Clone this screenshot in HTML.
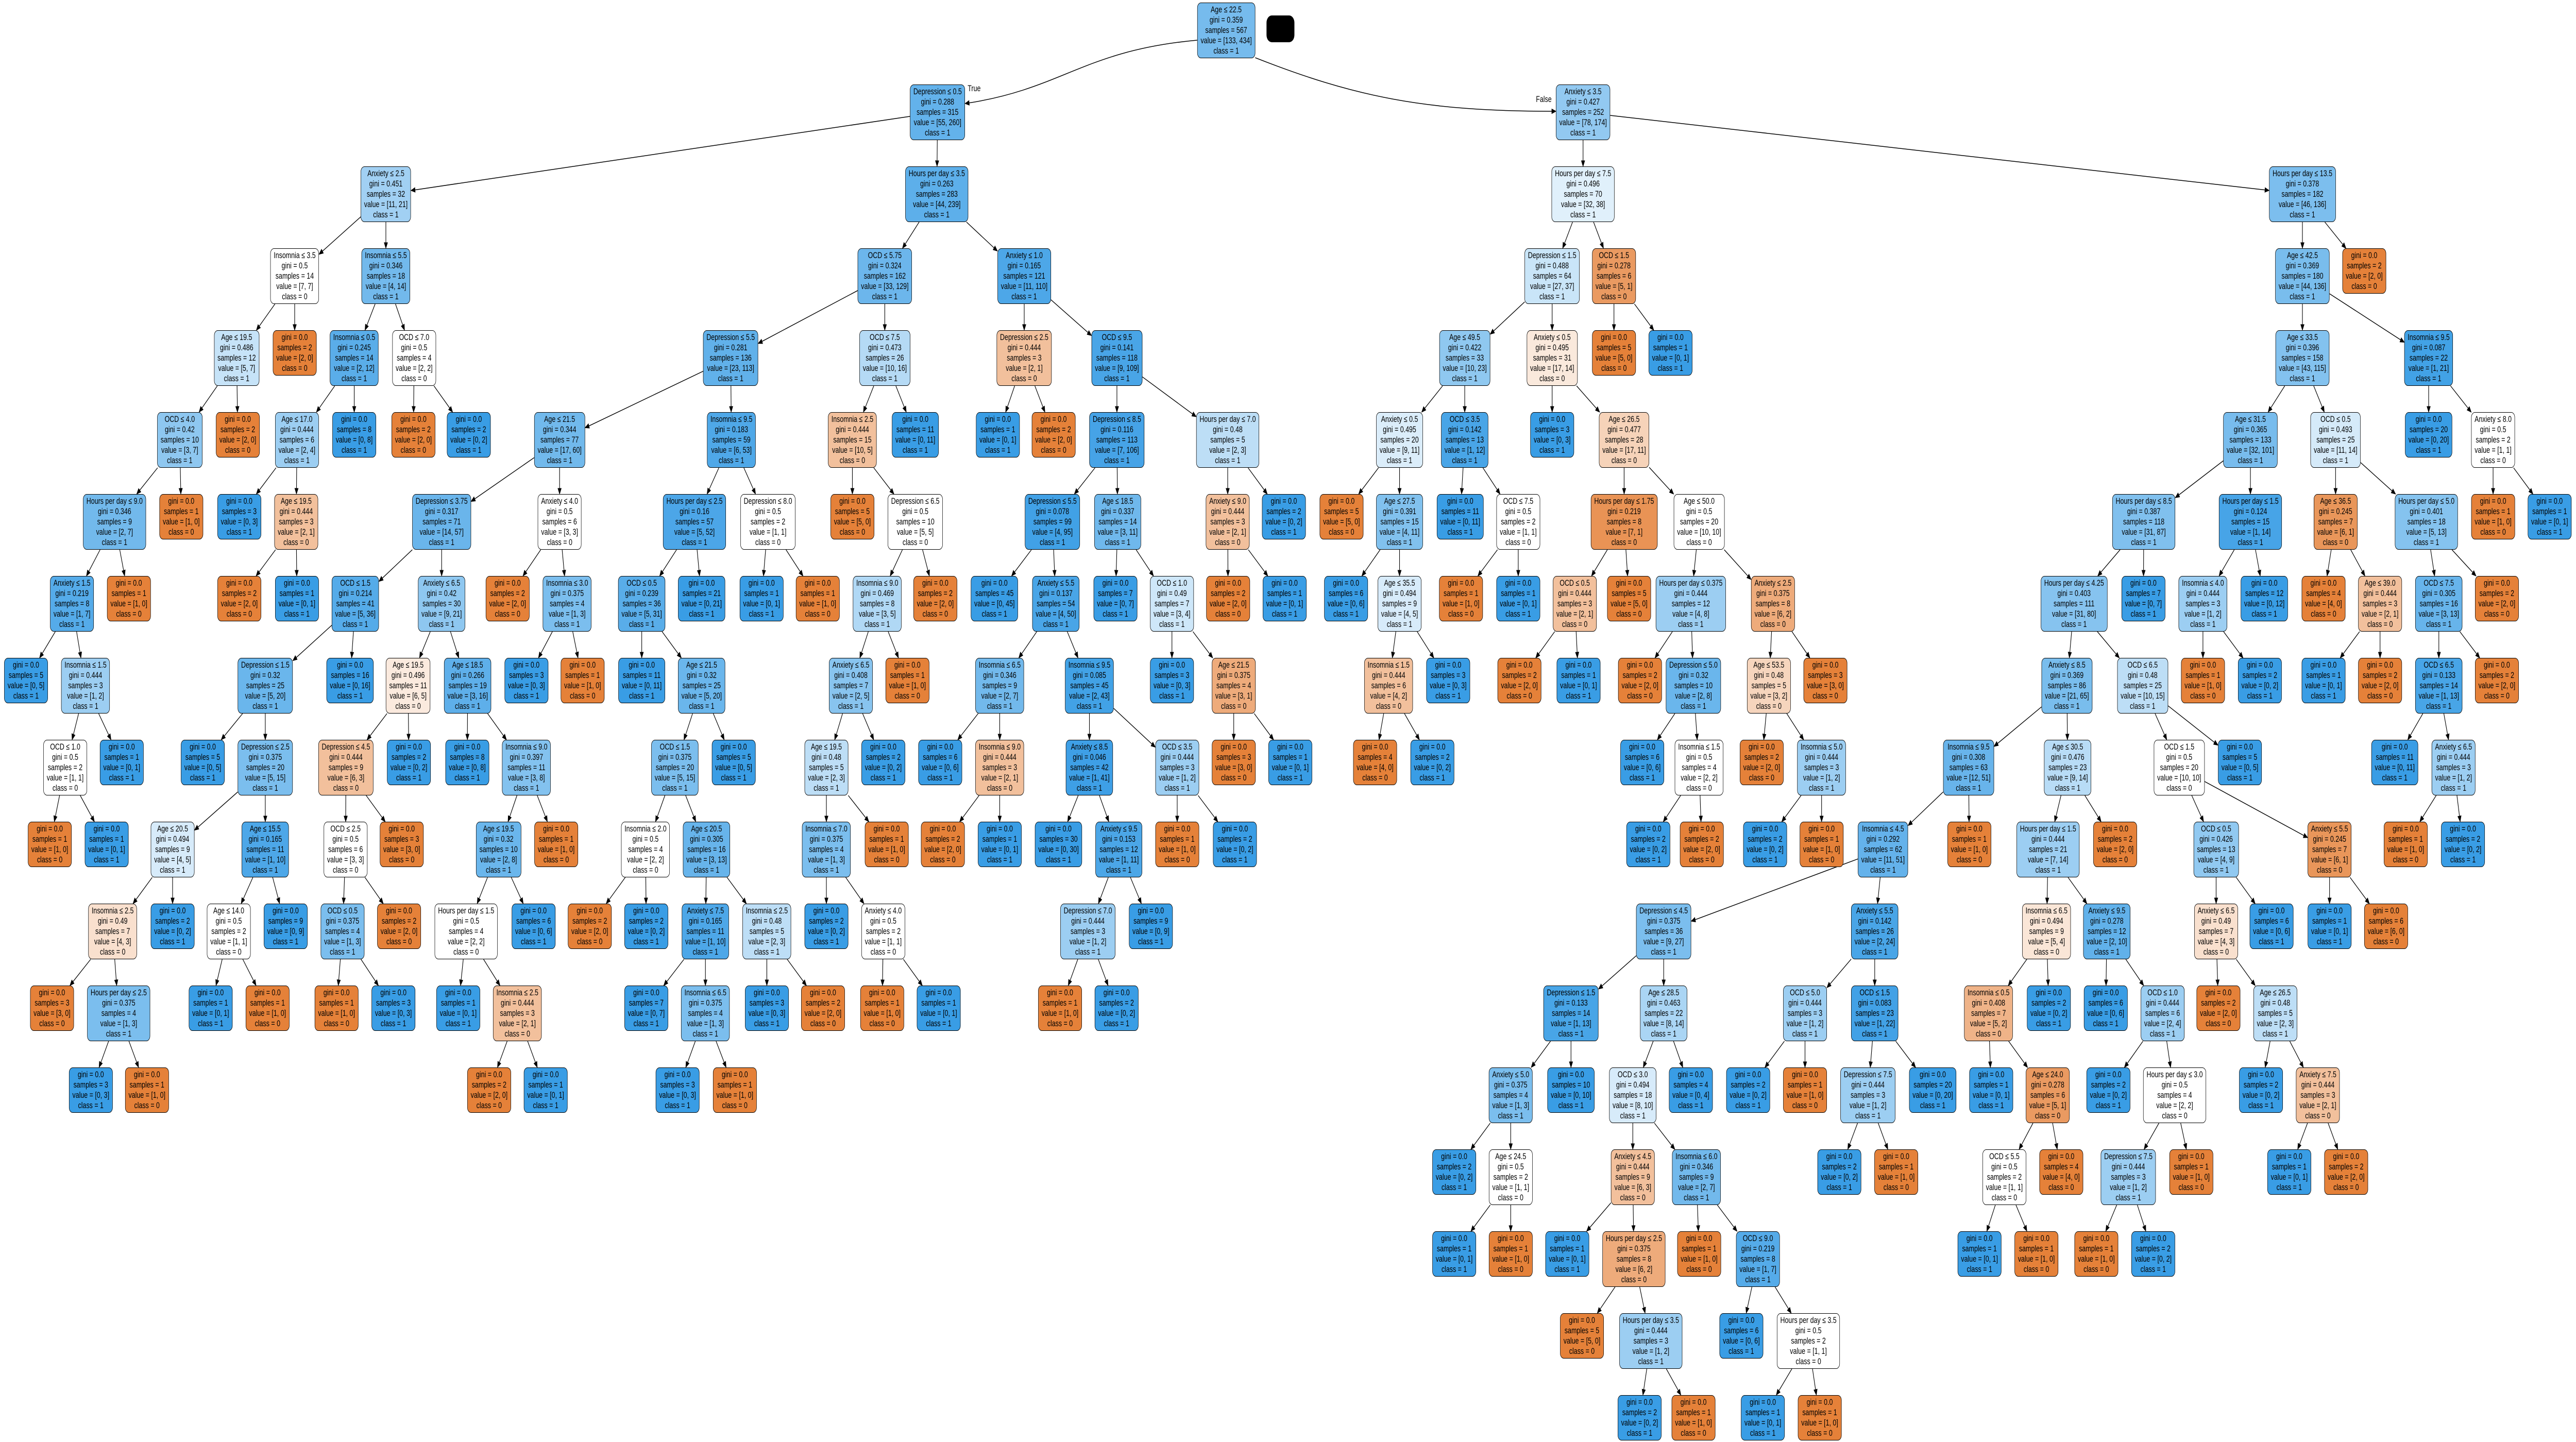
<!DOCTYPE html>
<html><head><meta charset="utf-8">
<style>
html,body{margin:0;padding:0;background:#fff;overflow:hidden}
#W{position:absolute;left:0;top:0;width:6836px;height:2799px;transform-origin:0 0;background:#fff}
svg{position:absolute;left:0;top:0}
.n{position:absolute;transform:translateX(-50%);border:1.5px solid #000;border-radius:10px;font:17px/20px "Liberation Sans",Arial,sans-serif;text-align:center;padding:3px 8px;white-space:nowrap;color:#000;background:#fff;z-index:2}
.lbl{position:absolute;font:17px/20px "Liberation Sans",Arial,sans-serif;z-index:2}
#blk{position:absolute;left:3361px;top:30px;width:74px;height:52px;background:#000;border-radius:14px}
</style></head><body>
<div id="W">
<svg id="E" width="6836" height="2799" xmlns="http://www.w3.org/2000/svg"></svg>
<div id="blk"></div>
<div class="lbl" style="left:2568px;top:162px">True</div>
<div class="lbl" style="left:4076px;top:183px">False</div>

<div id="n0" class="n" style="left:3254px">Age ≤ 22.5<br>gini = 0.359<br>samples = 567<br>value = [133, 434]<br>class = 1</div>
<div id="n1" class="n p0" style="left:2488px">Depression ≤ 0.5<br>gini = 0.288<br>samples = 315<br>value = [55, 260]<br>class = 1</div>
<div id="n2" class="n p1" style="left:1024px">Anxiety ≤ 2.5<br>gini = 0.451<br>samples = 32<br>value = [11, 21]<br>class = 1</div>
<div id="n3" class="n p2" style="left:782px">Insomnia ≤ 3.5<br>gini = 0.5<br>samples = 14<br>value = [7, 7]<br>class = 0</div>
<div id="n4" class="n p3" style="left:628px">Age ≤ 19.5<br>gini = 0.486<br>samples = 12<br>value = [5, 7]<br>class = 1</div>
<div id="n5" class="n p4" style="left:477px">OCD ≤ 4.0<br>gini = 0.42<br>samples = 10<br>value = [3, 7]<br>class = 1</div>
<div id="n6" class="n p5" style="left:304px">Hours per day ≤ 9.0<br>gini = 0.346<br>samples = 9<br>value = [2, 7]<br>class = 1</div>
<div id="n7" class="n p6" style="left:191px">Anxiety ≤ 1.5<br>gini = 0.219<br>samples = 8<br>value = [1, 7]<br>class = 1</div>
<div id="n8" class="n p7" style="left:69px">gini = 0.0<br>samples = 5<br>value = [0, 5]<br>class = 1</div>
<div id="n9" class="n p7" style="left:227px">Insomnia ≤ 1.5<br>gini = 0.444<br>samples = 3<br>value = [1, 2]<br>class = 1</div>
<div id="n10" class="n p9" style="left:173px">OCD ≤ 1.0<br>gini = 0.5<br>samples = 2<br>value = [1, 1]<br>class = 0</div>
<div id="n11" class="n p10" style="left:132px">gini = 0.0<br>samples = 1<br>value = [1, 0]<br>class = 0</div>
<div id="n12" class="n p10" style="left:283px">gini = 0.0<br>samples = 1<br>value = [0, 1]<br>class = 1</div>
<div id="n13" class="n p9" style="left:323px">gini = 0.0<br>samples = 1<br>value = [0, 1]<br>class = 1</div>
<div id="n14" class="n p6" style="left:342px">gini = 0.0<br>samples = 1<br>value = [1, 0]<br>class = 0</div>
<div id="n15" class="n p5" style="left:481px">gini = 0.0<br>samples = 1<br>value = [1, 0]<br>class = 0</div>
<div id="n16" class="n p4" style="left:631px">gini = 0.0<br>samples = 2<br>value = [2, 0]<br>class = 0</div>
<div id="n17" class="n p3" style="left:782px">gini = 0.0<br>samples = 2<br>value = [2, 0]<br>class = 0</div>
<div id="n18" class="n p2" style="left:1024px">Insomnia ≤ 5.5<br>gini = 0.346<br>samples = 18<br>value = [4, 14]<br>class = 1</div>
<div id="n19" class="n p18" style="left:940px">Insomnia ≤ 0.5<br>gini = 0.245<br>samples = 14<br>value = [2, 12]<br>class = 1</div>
<div id="n20" class="n p19" style="left:788px">Age ≤ 17.0<br>gini = 0.444<br>samples = 6<br>value = [2, 4]<br>class = 1</div>
<div id="n21" class="n p20" style="left:635px">gini = 0.0<br>samples = 3<br>value = [0, 3]<br>class = 1</div>
<div id="n22" class="n p20" style="left:786px">Age ≤ 19.5<br>gini = 0.444<br>samples = 3<br>value = [2, 1]<br>class = 0</div>
<div id="n23" class="n p22" style="left:635px">gini = 0.0<br>samples = 2<br>value = [2, 0]<br>class = 0</div>
<div id="n24" class="n p22" style="left:788px">gini = 0.0<br>samples = 1<br>value = [0, 1]<br>class = 1</div>
<div id="n25" class="n p19" style="left:940px">gini = 0.0<br>samples = 8<br>value = [0, 8]<br>class = 1</div>
<div id="n26" class="n p18" style="left:1099px">OCD ≤ 7.0<br>gini = 0.5<br>samples = 4<br>value = [2, 2]<br>class = 0</div>
<div id="n27" class="n p26" style="left:1097px">gini = 0.0<br>samples = 2<br>value = [2, 0]<br>class = 0</div>
<div id="n28" class="n p26" style="left:1244px">gini = 0.0<br>samples = 2<br>value = [0, 2]<br>class = 1</div>
<div id="n29" class="n p1" style="left:2486px">Hours per day ≤ 3.5<br>gini = 0.263<br>samples = 283<br>value = [44, 239]<br>class = 1</div>
<div id="n30" class="n p29" style="left:2348px">OCD ≤ 5.75<br>gini = 0.324<br>samples = 162<br>value = [33, 129]<br>class = 1</div>
<div id="n31" class="n p30" style="left:1939px">Depression ≤ 5.5<br>gini = 0.281<br>samples = 136<br>value = [23, 113]<br>class = 1</div>
<div id="n32" class="n p31" style="left:1485px">Age ≤ 21.5<br>gini = 0.344<br>samples = 77<br>value = [17, 60]<br>class = 1</div>
<div id="n33" class="n p32" style="left:1172px">Depression ≤ 3.75<br>gini = 0.317<br>samples = 71<br>value = [14, 57]<br>class = 1</div>
<div id="n34" class="n p33" style="left:943px">OCD ≤ 1.5<br>gini = 0.214<br>samples = 41<br>value = [5, 36]<br>class = 1</div>
<div id="n35" class="n p34" style="left:704px">Depression ≤ 1.5<br>gini = 0.32<br>samples = 25<br>value = [5, 20]<br>class = 1</div>
<div id="n36" class="n p35" style="left:538px">gini = 0.0<br>samples = 5<br>value = [0, 5]<br>class = 1</div>
<div id="n37" class="n p35" style="left:704px">Depression ≤ 2.5<br>gini = 0.375<br>samples = 20<br>value = [5, 15]<br>class = 1</div>
<div id="n38" class="n p37" style="left:458px">Age ≤ 20.5<br>gini = 0.494<br>samples = 9<br>value = [4, 5]<br>class = 1</div>
<div id="n39" class="n p38" style="left:299px">Insomnia ≤ 2.5<br>gini = 0.49<br>samples = 7<br>value = [4, 3]<br>class = 0</div>
<div id="n40" class="n p39" style="left:138px">gini = 0.0<br>samples = 3<br>value = [3, 0]<br>class = 0</div>
<div id="n41" class="n p39" style="left:315px">Hours per day ≤ 2.5<br>gini = 0.375<br>samples = 4<br>value = [1, 3]<br>class = 1</div>
<div id="n42" class="n p41" style="left:241px">gini = 0.0<br>samples = 3<br>value = [0, 3]<br>class = 1</div>
<div id="n43" class="n p41" style="left:390px">gini = 0.0<br>samples = 1<br>value = [1, 0]<br>class = 0</div>
<div id="n44" class="n p38" style="left:458px">gini = 0.0<br>samples = 2<br>value = [0, 2]<br>class = 1</div>
<div id="n45" class="n p37" style="left:704px">Age ≤ 15.5<br>gini = 0.165<br>samples = 11<br>value = [1, 10]<br>class = 1</div>
<div id="n46" class="n p45" style="left:607px">Age ≤ 14.0<br>gini = 0.5<br>samples = 2<br>value = [1, 1]<br>class = 0</div>
<div id="n47" class="n p46" style="left:559px">gini = 0.0<br>samples = 1<br>value = [0, 1]<br>class = 1</div>
<div id="n48" class="n p46" style="left:710px">gini = 0.0<br>samples = 1<br>value = [1, 0]<br>class = 0</div>
<div id="n49" class="n p45" style="left:758px">gini = 0.0<br>samples = 9<br>value = [0, 9]<br>class = 1</div>
<div id="n50" class="n p34" style="left:929px">gini = 0.0<br>samples = 16<br>value = [0, 16]<br>class = 1</div>
<div id="n51" class="n p33" style="left:1172px">Anxiety ≤ 6.5<br>gini = 0.42<br>samples = 30<br>value = [9, 21]<br>class = 1</div>
<div id="n52" class="n p51" style="left:1083px">Age ≤ 19.5<br>gini = 0.496<br>samples = 11<br>value = [6, 5]<br>class = 0</div>
<div id="n53" class="n p52" style="left:918px">Depression ≤ 4.5<br>gini = 0.444<br>samples = 9<br>value = [6, 3]<br>class = 0</div>
<div id="n54" class="n p53" style="left:917px">OCD ≤ 2.5<br>gini = 0.5<br>samples = 6<br>value = [3, 3]<br>class = 0</div>
<div id="n55" class="n p54" style="left:909px">OCD ≤ 0.5<br>gini = 0.375<br>samples = 4<br>value = [1, 3]<br>class = 1</div>
<div id="n56" class="n p55" style="left:893px">gini = 0.0<br>samples = 1<br>value = [1, 0]<br>class = 0</div>
<div id="n57" class="n p55" style="left:1044px">gini = 0.0<br>samples = 3<br>value = [0, 3]<br>class = 1</div>
<div id="n58" class="n p54" style="left:1059px">gini = 0.0<br>samples = 2<br>value = [2, 0]<br>class = 0</div>
<div id="n59" class="n p53" style="left:1066px">gini = 0.0<br>samples = 3<br>value = [3, 0]<br>class = 0</div>
<div id="n60" class="n p52" style="left:1085px">gini = 0.0<br>samples = 2<br>value = [0, 2]<br>class = 1</div>
<div id="n61" class="n p51" style="left:1241px">Age ≤ 18.5<br>gini = 0.266<br>samples = 19<br>value = [3, 16]<br>class = 1</div>
<div id="n62" class="n p61" style="left:1240px">gini = 0.0<br>samples = 8<br>value = [0, 8]<br>class = 1</div>
<div id="n63" class="n p61" style="left:1397px">Insomnia ≤ 9.0<br>gini = 0.397<br>samples = 11<br>value = [3, 8]<br>class = 1</div>
<div id="n64" class="n p63" style="left:1323px">Age ≤ 19.5<br>gini = 0.32<br>samples = 10<br>value = [2, 8]<br>class = 1</div>
<div id="n65" class="n p64" style="left:1237px">Hours per day ≤ 1.5<br>gini = 0.5<br>samples = 4<br>value = [2, 2]<br>class = 0</div>
<div id="n66" class="n p65" style="left:1216px">gini = 0.0<br>samples = 1<br>value = [0, 1]<br>class = 1</div>
<div id="n67" class="n p65" style="left:1373px">Insomnia ≤ 2.5<br>gini = 0.444<br>samples = 3<br>value = [2, 1]<br>class = 0</div>
<div id="n68" class="n p67" style="left:1298px">gini = 0.0<br>samples = 2<br>value = [2, 0]<br>class = 0</div>
<div id="n69" class="n p67" style="left:1448px">gini = 0.0<br>samples = 1<br>value = [0, 1]<br>class = 1</div>
<div id="n70" class="n p64" style="left:1416px">gini = 0.0<br>samples = 6<br>value = [0, 6]<br>class = 1</div>
<div id="n71" class="n p63" style="left:1476px">gini = 0.0<br>samples = 1<br>value = [1, 0]<br>class = 0</div>
<div id="n72" class="n p32" style="left:1485px">Anxiety ≤ 4.0<br>gini = 0.5<br>samples = 6<br>value = [3, 3]<br>class = 0</div>
<div id="n73" class="n p72" style="left:1347px">gini = 0.0<br>samples = 2<br>value = [2, 0]<br>class = 0</div>
<div id="n74" class="n p72" style="left:1505px">Insomnia ≤ 3.0<br>gini = 0.375<br>samples = 4<br>value = [1, 3]<br>class = 1</div>
<div id="n75" class="n p74" style="left:1397px">gini = 0.0<br>samples = 3<br>value = [0, 3]<br>class = 1</div>
<div id="n76" class="n p74" style="left:1546px">gini = 0.0<br>samples = 1<br>value = [1, 0]<br>class = 0</div>
<div id="n77" class="n p31" style="left:1941px">Insomnia ≤ 9.5<br>gini = 0.183<br>samples = 59<br>value = [6, 53]<br>class = 1</div>
<div id="n78" class="n p77" style="left:1843px">Hours per day ≤ 2.5<br>gini = 0.16<br>samples = 57<br>value = [5, 52]<br>class = 1</div>
<div id="n79" class="n p78" style="left:1703px">OCD ≤ 0.5<br>gini = 0.239<br>samples = 36<br>value = [5, 31]<br>class = 1</div>
<div id="n80" class="n p79" style="left:1703px">gini = 0.0<br>samples = 11<br>value = [0, 11]<br>class = 1</div>
<div id="n81" class="n p79" style="left:1862px">Age ≤ 21.5<br>gini = 0.32<br>samples = 25<br>value = [5, 20]<br>class = 1</div>
<div id="n82" class="n p81" style="left:1791px">OCD ≤ 1.5<br>gini = 0.375<br>samples = 20<br>value = [5, 15]<br>class = 1</div>
<div id="n83" class="n p82" style="left:1713px">Insomnia ≤ 2.0<br>gini = 0.5<br>samples = 4<br>value = [2, 2]<br>class = 0</div>
<div id="n84" class="n p83" style="left:1565px">gini = 0.0<br>samples = 2<br>value = [2, 0]<br>class = 0</div>
<div id="n85" class="n p83" style="left:1715px">gini = 0.0<br>samples = 2<br>value = [0, 2]<br>class = 1</div>
<div id="n86" class="n p82" style="left:1875px">Age ≤ 20.5<br>gini = 0.305<br>samples = 16<br>value = [3, 13]<br>class = 1</div>
<div id="n87" class="n p86" style="left:1872px">Anxiety ≤ 7.5<br>gini = 0.165<br>samples = 11<br>value = [1, 10]<br>class = 1</div>
<div id="n88" class="n p87" style="left:1715px">gini = 0.0<br>samples = 7<br>value = [0, 7]<br>class = 1</div>
<div id="n89" class="n p87" style="left:1872px">Insomnia ≤ 6.5<br>gini = 0.375<br>samples = 4<br>value = [1, 3]<br>class = 1</div>
<div id="n90" class="n p89" style="left:1798px">gini = 0.0<br>samples = 3<br>value = [0, 3]<br>class = 1</div>
<div id="n91" class="n p89" style="left:1950px">gini = 0.0<br>samples = 1<br>value = [1, 0]<br>class = 0</div>
<div id="n92" class="n p86" style="left:2035px">Insomnia ≤ 2.5<br>gini = 0.48<br>samples = 5<br>value = [2, 3]<br>class = 1</div>
<div id="n93" class="n p92" style="left:2035px">gini = 0.0<br>samples = 3<br>value = [0, 3]<br>class = 1</div>
<div id="n94" class="n p92" style="left:2184px">gini = 0.0<br>samples = 2<br>value = [2, 0]<br>class = 0</div>
<div id="n95" class="n p81" style="left:1947px">gini = 0.0<br>samples = 5<br>value = [0, 5]<br>class = 1</div>
<div id="n96" class="n p78" style="left:1862px">gini = 0.0<br>samples = 21<br>value = [0, 21]<br>class = 1</div>
<div id="n97" class="n p77" style="left:2038px">Depression ≤ 8.0<br>gini = 0.5<br>samples = 2<br>value = [1, 1]<br>class = 0</div>
<div id="n98" class="n p97" style="left:2021px">gini = 0.0<br>samples = 1<br>value = [0, 1]<br>class = 1</div>
<div id="n99" class="n p97" style="left:2170px">gini = 0.0<br>samples = 1<br>value = [1, 0]<br>class = 0</div>
<div id="n100" class="n p30" style="left:2348px">OCD ≤ 7.5<br>gini = 0.473<br>samples = 26<br>value = [10, 16]<br>class = 1</div>
<div id="n101" class="n p100" style="left:2262px">Insomnia ≤ 2.5<br>gini = 0.444<br>samples = 15<br>value = [10, 5]<br>class = 0</div>
<div id="n102" class="n p101" style="left:2262px">gini = 0.0<br>samples = 5<br>value = [5, 0]<br>class = 0</div>
<div id="n103" class="n p101" style="left:2429px">Depression ≤ 6.5<br>gini = 0.5<br>samples = 10<br>value = [5, 5]<br>class = 0</div>
<div id="n104" class="n p103" style="left:2328px">Insomnia ≤ 9.0<br>gini = 0.469<br>samples = 8<br>value = [3, 5]<br>class = 1</div>
<div id="n105" class="n p104" style="left:2258px">Anxiety ≤ 6.5<br>gini = 0.408<br>samples = 7<br>value = [2, 5]<br>class = 1</div>
<div id="n106" class="n p105" style="left:2193px">Age ≤ 19.5<br>gini = 0.48<br>samples = 5<br>value = [2, 3]<br>class = 1</div>
<div id="n107" class="n p106" style="left:2193px">Insomnia ≤ 7.0<br>gini = 0.375<br>samples = 4<br>value = [1, 3]<br>class = 1</div>
<div id="n108" class="n p107" style="left:2193px">gini = 0.0<br>samples = 2<br>value = [0, 2]<br>class = 1</div>
<div id="n109" class="n p107" style="left:2344px">Anxiety ≤ 4.0<br>gini = 0.5<br>samples = 2<br>value = [1, 1]<br>class = 0</div>
<div id="n110" class="n p109" style="left:2341px">gini = 0.0<br>samples = 1<br>value = [1, 0]<br>class = 0</div>
<div id="n111" class="n p109" style="left:2491px">gini = 0.0<br>samples = 1<br>value = [0, 1]<br>class = 1</div>
<div id="n112" class="n p106" style="left:2353px">gini = 0.0<br>samples = 1<br>value = [1, 0]<br>class = 0</div>
<div id="n113" class="n p105" style="left:2344px">gini = 0.0<br>samples = 2<br>value = [0, 2]<br>class = 1</div>
<div id="n114" class="n p104" style="left:2408px">gini = 0.0<br>samples = 1<br>value = [1, 0]<br>class = 0</div>
<div id="n115" class="n p103" style="left:2482px">gini = 0.0<br>samples = 2<br>value = [2, 0]<br>class = 0</div>
<div id="n116" class="n p100" style="left:2429px">gini = 0.0<br>samples = 11<br>value = [0, 11]<br>class = 1</div>
<div id="n117" class="n p29" style="left:2718px">Anxiety ≤ 1.0<br>gini = 0.165<br>samples = 121<br>value = [11, 110]<br>class = 1</div>
<div id="n118" class="n p117" style="left:2718px">Depression ≤ 2.5<br>gini = 0.444<br>samples = 3<br>value = [2, 1]<br>class = 0</div>
<div id="n119" class="n p118" style="left:2648px">gini = 0.0<br>samples = 1<br>value = [0, 1]<br>class = 1</div>
<div id="n120" class="n p118" style="left:2796px">gini = 0.0<br>samples = 2<br>value = [2, 0]<br>class = 0</div>
<div id="n121" class="n p117" style="left:2964px">OCD ≤ 9.5<br>gini = 0.141<br>samples = 118<br>value = [9, 109]<br>class = 1</div>
<div id="n122" class="n p121" style="left:2964px">Depression ≤ 8.5<br>gini = 0.116<br>samples = 113<br>value = [7, 106]<br>class = 1</div>
<div id="n123" class="n p122" style="left:2793px">Depression ≤ 5.5<br>gini = 0.078<br>samples = 99<br>value = [4, 95]<br>class = 1</div>
<div id="n124" class="n p123" style="left:2639px">gini = 0.0<br>samples = 45<br>value = [0, 45]<br>class = 1</div>
<div id="n125" class="n p123" style="left:2802px">Anxiety ≤ 5.5<br>gini = 0.137<br>samples = 54<br>value = [4, 50]<br>class = 1</div>
<div id="n126" class="n p125" style="left:2653px">Insomnia ≤ 6.5<br>gini = 0.346<br>samples = 9<br>value = [2, 7]<br>class = 1</div>
<div id="n127" class="n p126" style="left:2495px">gini = 0.0<br>samples = 6<br>value = [0, 6]<br>class = 1</div>
<div id="n128" class="n p126" style="left:2653px">Insomnia ≤ 9.0<br>gini = 0.444<br>samples = 3<br>value = [2, 1]<br>class = 0</div>
<div id="n129" class="n p128" style="left:2502px">gini = 0.0<br>samples = 2<br>value = [2, 0]<br>class = 0</div>
<div id="n130" class="n p128" style="left:2653px">gini = 0.0<br>samples = 1<br>value = [0, 1]<br>class = 1</div>
<div id="n131" class="n p125" style="left:2891px">Insomnia ≤ 9.5<br>gini = 0.085<br>samples = 45<br>value = [2, 43]<br>class = 1</div>
<div id="n132" class="n p131" style="left:2891px">Anxiety ≤ 8.5<br>gini = 0.046<br>samples = 42<br>value = [1, 41]<br>class = 1</div>
<div id="n133" class="n p132" style="left:2809px">gini = 0.0<br>samples = 30<br>value = [0, 30]<br>class = 1</div>
<div id="n134" class="n p132" style="left:2969px">Anxiety ≤ 9.5<br>gini = 0.153<br>samples = 12<br>value = [1, 11]<br>class = 1</div>
<div id="n135" class="n p134" style="left:2887px">Depression ≤ 7.0<br>gini = 0.444<br>samples = 3<br>value = [1, 2]<br>class = 1</div>
<div id="n136" class="n p135" style="left:2813px">gini = 0.0<br>samples = 1<br>value = [1, 0]<br>class = 0</div>
<div id="n137" class="n p135" style="left:2963px">gini = 0.0<br>samples = 2<br>value = [0, 2]<br>class = 1</div>
<div id="n138" class="n p134" style="left:3054px">gini = 0.0<br>samples = 9<br>value = [0, 9]<br>class = 1</div>
<div id="n139" class="n p131" style="left:3124px">OCD ≤ 3.5<br>gini = 0.444<br>samples = 3<br>value = [1, 2]<br>class = 1</div>
<div id="n140" class="n p139" style="left:3124px">gini = 0.0<br>samples = 1<br>value = [1, 0]<br>class = 0</div>
<div id="n141" class="n p139" style="left:3277px">gini = 0.0<br>samples = 2<br>value = [0, 2]<br>class = 1</div>
<div id="n142" class="n p122" style="left:2966px">Age ≤ 18.5<br>gini = 0.337<br>samples = 14<br>value = [3, 11]<br>class = 1</div>
<div id="n143" class="n p142" style="left:2960px">gini = 0.0<br>samples = 7<br>value = [0, 7]<br>class = 1</div>
<div id="n144" class="n p142" style="left:3110px">OCD ≤ 1.0<br>gini = 0.49<br>samples = 7<br>value = [3, 4]<br>class = 1</div>
<div id="n145" class="n p144" style="left:3110px">gini = 0.0<br>samples = 3<br>value = [0, 3]<br>class = 1</div>
<div id="n146" class="n p144" style="left:3274px">Age ≤ 21.5<br>gini = 0.375<br>samples = 4<br>value = [3, 1]<br>class = 0</div>
<div id="n147" class="n p146" style="left:3274px">gini = 0.0<br>samples = 3<br>value = [3, 0]<br>class = 0</div>
<div id="n148" class="n p146" style="left:3424px">gini = 0.0<br>samples = 1<br>value = [0, 1]<br>class = 1</div>
<div id="n149" class="n p121" style="left:3258px">Hours per day ≤ 7.0<br>gini = 0.48<br>samples = 5<br>value = [2, 3]<br>class = 1</div>
<div id="n150" class="n p149" style="left:3258px">Anxiety ≤ 9.0<br>gini = 0.444<br>samples = 3<br>value = [2, 1]<br>class = 0</div>
<div id="n151" class="n p150" style="left:3259px">gini = 0.0<br>samples = 2<br>value = [2, 0]<br>class = 0</div>
<div id="n152" class="n p150" style="left:3409px">gini = 0.0<br>samples = 1<br>value = [0, 1]<br>class = 1</div>
<div id="n153" class="n p149" style="left:3407px">gini = 0.0<br>samples = 2<br>value = [0, 2]<br>class = 1</div>
<div id="n154" class="n p0" style="left:4201px">Anxiety ≤ 3.5<br>gini = 0.427<br>samples = 252<br>value = [78, 174]<br>class = 1</div>
<div id="n155" class="n p154" style="left:4201px">Hours per day ≤ 7.5<br>gini = 0.496<br>samples = 70<br>value = [32, 38]<br>class = 1</div>
<div id="n156" class="n p155" style="left:4119px">Depression ≤ 1.5<br>gini = 0.488<br>samples = 64<br>value = [27, 37]<br>class = 1</div>
<div id="n157" class="n p156" style="left:3887px">Age ≤ 49.5<br>gini = 0.422<br>samples = 33<br>value = [10, 23]<br>class = 1</div>
<div id="n158" class="n p157" style="left:3714px">Anxiety ≤ 0.5<br>gini = 0.495<br>samples = 20<br>value = [9, 11]<br>class = 1</div>
<div id="n159" class="n p158" style="left:3560px">gini = 0.0<br>samples = 5<br>value = [5, 0]<br>class = 0</div>
<div id="n160" class="n p158" style="left:3714px">Age ≤ 27.5<br>gini = 0.391<br>samples = 15<br>value = [4, 11]<br>class = 1</div>
<div id="n161" class="n p160" style="left:3572px">gini = 0.0<br>samples = 6<br>value = [0, 6]<br>class = 1</div>
<div id="n162" class="n p160" style="left:3714px">Age ≤ 35.5<br>gini = 0.494<br>samples = 9<br>value = [4, 5]<br>class = 1</div>
<div id="n163" class="n p162" style="left:3685px">Insomnia ≤ 1.5<br>gini = 0.444<br>samples = 6<br>value = [4, 2]<br>class = 0</div>
<div id="n164" class="n p163" style="left:3649px">gini = 0.0<br>samples = 4<br>value = [4, 0]<br>class = 0</div>
<div id="n165" class="n p163" style="left:3801px">gini = 0.0<br>samples = 2<br>value = [0, 2]<br>class = 1</div>
<div id="n166" class="n p162" style="left:3843px">gini = 0.0<br>samples = 3<br>value = [0, 3]<br>class = 1</div>
<div id="n167" class="n p157" style="left:3887px">OCD ≤ 3.5<br>gini = 0.142<br>samples = 13<br>value = [1, 12]<br>class = 1</div>
<div id="n168" class="n p167" style="left:3875px">gini = 0.0<br>samples = 11<br>value = [0, 11]<br>class = 1</div>
<div id="n169" class="n p167" style="left:4029px">OCD ≤ 7.5<br>gini = 0.5<br>samples = 2<br>value = [1, 1]<br>class = 0</div>
<div id="n170" class="n p169" style="left:3877px">gini = 0.0<br>samples = 1<br>value = [1, 0]<br>class = 0</div>
<div id="n171" class="n p169" style="left:4029px">gini = 0.0<br>samples = 1<br>value = [0, 1]<br>class = 1</div>
<div id="n172" class="n p156" style="left:4119px">Anxiety ≤ 0.5<br>gini = 0.495<br>samples = 31<br>value = [17, 14]<br>class = 0</div>
<div id="n173" class="n p172" style="left:4119px">gini = 0.0<br>samples = 3<br>value = [0, 3]<br>class = 1</div>
<div id="n174" class="n p172" style="left:4310px">Age ≤ 26.5<br>gini = 0.477<br>samples = 28<br>value = [17, 11]<br>class = 0</div>
<div id="n175" class="n p174" style="left:4310px">Hours per day ≤ 1.75<br>gini = 0.219<br>samples = 8<br>value = [7, 1]<br>class = 0</div>
<div id="n176" class="n p175" style="left:4179px">OCD ≤ 0.5<br>gini = 0.444<br>samples = 3<br>value = [2, 1]<br>class = 0</div>
<div id="n177" class="n p176" style="left:4032px">gini = 0.0<br>samples = 2<br>value = [2, 0]<br>class = 0</div>
<div id="n178" class="n p176" style="left:4189px">gini = 0.0<br>samples = 1<br>value = [0, 1]<br>class = 1</div>
<div id="n179" class="n p175" style="left:4323px">gini = 0.0<br>samples = 5<br>value = [5, 0]<br>class = 0</div>
<div id="n180" class="n p174" style="left:4509px">Age ≤ 50.0<br>gini = 0.5<br>samples = 20<br>value = [10, 10]<br>class = 0</div>
<div id="n181" class="n p180" style="left:4487px">Hours per day ≤ 0.375<br>gini = 0.444<br>samples = 12<br>value = [4, 8]<br>class = 1</div>
<div id="n182" class="n p181" style="left:4352px">gini = 0.0<br>samples = 2<br>value = [2, 0]<br>class = 0</div>
<div id="n183" class="n p181" style="left:4494px">Depression ≤ 5.0<br>gini = 0.32<br>samples = 10<br>value = [2, 8]<br>class = 1</div>
<div id="n184" class="n p183" style="left:4358px">gini = 0.0<br>samples = 6<br>value = [0, 6]<br>class = 1</div>
<div id="n185" class="n p183" style="left:4509px">Insomnia ≤ 1.5<br>gini = 0.5<br>samples = 4<br>value = [2, 2]<br>class = 0</div>
<div id="n186" class="n p185" style="left:4374px">gini = 0.0<br>samples = 2<br>value = [0, 2]<br>class = 1</div>
<div id="n187" class="n p185" style="left:4516px">gini = 0.0<br>samples = 2<br>value = [2, 0]<br>class = 0</div>
<div id="n188" class="n p180" style="left:4705px">Anxiety ≤ 2.5<br>gini = 0.375<br>samples = 8<br>value = [6, 2]<br>class = 0</div>
<div id="n189" class="n p188" style="left:4694px">Age ≤ 53.5<br>gini = 0.48<br>samples = 5<br>value = [3, 2]<br>class = 0</div>
<div id="n190" class="n p189" style="left:4675px">gini = 0.0<br>samples = 2<br>value = [2, 0]<br>class = 0</div>
<div id="n191" class="n p189" style="left:4834px">Insomnia ≤ 5.0<br>gini = 0.444<br>samples = 3<br>value = [1, 2]<br>class = 1</div>
<div id="n192" class="n p191" style="left:4684px">gini = 0.0<br>samples = 2<br>value = [0, 2]<br>class = 1</div>
<div id="n193" class="n p191" style="left:4834px">gini = 0.0<br>samples = 1<br>value = [1, 0]<br>class = 0</div>
<div id="n194" class="n p188" style="left:4844px">gini = 0.0<br>samples = 3<br>value = [3, 0]<br>class = 0</div>
<div id="n195" class="n p155" style="left:4283px">OCD ≤ 1.5<br>gini = 0.278<br>samples = 6<br>value = [5, 1]<br>class = 0</div>
<div id="n196" class="n p195" style="left:4283px">gini = 0.0<br>samples = 5<br>value = [5, 0]<br>class = 0</div>
<div id="n197" class="n p195" style="left:4433px">gini = 0.0<br>samples = 1<br>value = [0, 1]<br>class = 1</div>
<div id="n198" class="n p154" style="left:6110px">Hours per day ≤ 13.5<br>gini = 0.378<br>samples = 182<br>value = [46, 136]<br>class = 1</div>
<div id="n199" class="n p198" style="left:6110px">Age ≤ 42.5<br>gini = 0.369<br>samples = 180<br>value = [44, 136]<br>class = 1</div>
<div id="n200" class="n p199" style="left:6110px">Age ≤ 33.5<br>gini = 0.396<br>samples = 158<br>value = [43, 115]<br>class = 1</div>
<div id="n201" class="n p200" style="left:5972px">Age ≤ 31.5<br>gini = 0.365<br>samples = 133<br>value = [32, 101]<br>class = 1</div>
<div id="n202" class="n p201" style="left:5689px">Hours per day ≤ 8.5<br>gini = 0.387<br>samples = 118<br>value = [31, 87]<br>class = 1</div>
<div id="n203" class="n p202" style="left:5504px">Hours per day ≤ 4.25<br>gini = 0.403<br>samples = 111<br>value = [31, 80]<br>class = 1</div>
<div id="n204" class="n p203" style="left:5485px">Anxiety ≤ 8.5<br>gini = 0.369<br>samples = 86<br>value = [21, 65]<br>class = 1</div>
<div id="n205" class="n p204" style="left:5224px">Insomnia ≤ 9.5<br>gini = 0.308<br>samples = 63<br>value = [12, 51]<br>class = 1</div>
<div id="n206" class="n p205" style="left:4997px">Insomnia ≤ 4.5<br>gini = 0.292<br>samples = 62<br>value = [11, 51]<br>class = 1</div>
<div id="n207" class="n p206" style="left:4415px">Depression ≤ 4.5<br>gini = 0.375<br>samples = 36<br>value = [9, 27]<br>class = 1</div>
<div id="n208" class="n p207" style="left:4169px">Depression ≤ 1.5<br>gini = 0.133<br>samples = 14<br>value = [1, 13]<br>class = 1</div>
<div id="n209" class="n p208" style="left:4009px">Anxiety ≤ 5.0<br>gini = 0.375<br>samples = 4<br>value = [1, 3]<br>class = 1</div>
<div id="n210" class="n p209" style="left:3859px">gini = 0.0<br>samples = 2<br>value = [0, 2]<br>class = 1</div>
<div id="n211" class="n p209" style="left:4009px">Age ≤ 24.5<br>gini = 0.5<br>samples = 2<br>value = [1, 1]<br>class = 0</div>
<div id="n212" class="n p211" style="left:3859px">gini = 0.0<br>samples = 1<br>value = [0, 1]<br>class = 1</div>
<div id="n213" class="n p211" style="left:4009px">gini = 0.0<br>samples = 1<br>value = [1, 0]<br>class = 0</div>
<div id="n214" class="n p208" style="left:4169px">gini = 0.0<br>samples = 10<br>value = [0, 10]<br>class = 1</div>
<div id="n215" class="n p207" style="left:4415px">Age ≤ 28.5<br>gini = 0.463<br>samples = 22<br>value = [8, 14]<br>class = 1</div>
<div id="n216" class="n p215" style="left:4333px">OCD ≤ 3.0<br>gini = 0.494<br>samples = 18<br>value = [8, 10]<br>class = 1</div>
<div id="n217" class="n p216" style="left:4333px">Anxiety ≤ 4.5<br>gini = 0.444<br>samples = 9<br>value = [6, 3]<br>class = 0</div>
<div id="n218" class="n p217" style="left:4159px">gini = 0.0<br>samples = 1<br>value = [0, 1]<br>class = 1</div>
<div id="n219" class="n p217" style="left:4336px">Hours per day ≤ 2.5<br>gini = 0.375<br>samples = 8<br>value = [6, 2]<br>class = 0</div>
<div id="n220" class="n p219" style="left:4198px">gini = 0.0<br>samples = 5<br>value = [5, 0]<br>class = 0</div>
<div id="n221" class="n p219" style="left:4381px">Hours per day ≤ 3.5<br>gini = 0.444<br>samples = 3<br>value = [1, 2]<br>class = 1</div>
<div id="n222" class="n p221" style="left:4351px">gini = 0.0<br>samples = 2<br>value = [0, 2]<br>class = 1</div>
<div id="n223" class="n p221" style="left:4494px">gini = 0.0<br>samples = 1<br>value = [1, 0]<br>class = 0</div>
<div id="n224" class="n p216" style="left:4502px">Insomnia ≤ 6.0<br>gini = 0.346<br>samples = 9<br>value = [2, 7]<br>class = 1</div>
<div id="n225" class="n p224" style="left:4509px">gini = 0.0<br>samples = 1<br>value = [1, 0]<br>class = 0</div>
<div id="n226" class="n p224" style="left:4665px">OCD ≤ 9.0<br>gini = 0.219<br>samples = 8<br>value = [1, 7]<br>class = 1</div>
<div id="n227" class="n p226" style="left:4621px">gini = 0.0<br>samples = 6<br>value = [0, 6]<br>class = 1</div>
<div id="n228" class="n p226" style="left:4799px">Hours per day ≤ 3.5<br>gini = 0.5<br>samples = 2<br>value = [1, 1]<br>class = 0</div>
<div id="n229" class="n p228" style="left:4678px">gini = 0.0<br>samples = 1<br>value = [0, 1]<br>class = 1</div>
<div id="n230" class="n p228" style="left:4829px">gini = 0.0<br>samples = 1<br>value = [1, 0]<br>class = 0</div>
<div id="n231" class="n p215" style="left:4487px">gini = 0.0<br>samples = 4<br>value = [0, 4]<br>class = 1</div>
<div id="n232" class="n p206" style="left:4975px">Anxiety ≤ 5.5<br>gini = 0.142<br>samples = 26<br>value = [2, 24]<br>class = 1</div>
<div id="n233" class="n p232" style="left:4790px">OCD ≤ 5.0<br>gini = 0.444<br>samples = 3<br>value = [1, 2]<br>class = 1</div>
<div id="n234" class="n p233" style="left:4639px">gini = 0.0<br>samples = 2<br>value = [0, 2]<br>class = 1</div>
<div id="n235" class="n p233" style="left:4790px">gini = 0.0<br>samples = 1<br>value = [1, 0]<br>class = 0</div>
<div id="n236" class="n p232" style="left:4975px">OCD ≤ 1.5<br>gini = 0.083<br>samples = 23<br>value = [1, 22]<br>class = 1</div>
<div id="n237" class="n p236" style="left:4957px">Depression ≤ 7.5<br>gini = 0.444<br>samples = 3<br>value = [1, 2]<br>class = 1</div>
<div id="n238" class="n p237" style="left:4881px">gini = 0.0<br>samples = 2<br>value = [0, 2]<br>class = 1</div>
<div id="n239" class="n p237" style="left:5032px">gini = 0.0<br>samples = 1<br>value = [1, 0]<br>class = 0</div>
<div id="n240" class="n p236" style="left:5129px">gini = 0.0<br>samples = 20<br>value = [0, 20]<br>class = 1</div>
<div id="n241" class="n p205" style="left:5226px">gini = 0.0<br>samples = 1<br>value = [1, 0]<br>class = 0</div>
<div id="n242" class="n p204" style="left:5487px">Age ≤ 30.5<br>gini = 0.476<br>samples = 23<br>value = [9, 14]<br>class = 1</div>
<div id="n243" class="n p242" style="left:5435px">Hours per day ≤ 1.5<br>gini = 0.444<br>samples = 21<br>value = [7, 14]<br>class = 1</div>
<div id="n244" class="n p243" style="left:5431px">Insomnia ≤ 6.5<br>gini = 0.494<br>samples = 9<br>value = [5, 4]<br>class = 0</div>
<div id="n245" class="n p244" style="left:5277px">Insomnia ≤ 0.5<br>gini = 0.408<br>samples = 7<br>value = [5, 2]<br>class = 0</div>
<div id="n246" class="n p245" style="left:5284px">gini = 0.0<br>samples = 1<br>value = [0, 1]<br>class = 1</div>
<div id="n247" class="n p245" style="left:5434px">Age ≤ 24.0<br>gini = 0.278<br>samples = 6<br>value = [5, 1]<br>class = 0</div>
<div id="n248" class="n p247" style="left:5319px">OCD ≤ 5.5<br>gini = 0.5<br>samples = 2<br>value = [1, 1]<br>class = 0</div>
<div id="n249" class="n p248" style="left:5253px">gini = 0.0<br>samples = 1<br>value = [0, 1]<br>class = 1</div>
<div id="n250" class="n p248" style="left:5404px">gini = 0.0<br>samples = 1<br>value = [1, 0]<br>class = 0</div>
<div id="n251" class="n p247" style="left:5470px">gini = 0.0<br>samples = 4<br>value = [4, 0]<br>class = 0</div>
<div id="n252" class="n p244" style="left:5437px">gini = 0.0<br>samples = 2<br>value = [0, 2]<br>class = 1</div>
<div id="n253" class="n p243" style="left:5591px">Anxiety ≤ 9.5<br>gini = 0.278<br>samples = 12<br>value = [2, 10]<br>class = 1</div>
<div id="n254" class="n p253" style="left:5588px">gini = 0.0<br>samples = 6<br>value = [0, 6]<br>class = 1</div>
<div id="n255" class="n p253" style="left:5739px">OCD ≤ 1.0<br>gini = 0.444<br>samples = 6<br>value = [2, 4]<br>class = 1</div>
<div id="n256" class="n p255" style="left:5595px">gini = 0.0<br>samples = 2<br>value = [0, 2]<br>class = 1</div>
<div id="n257" class="n p255" style="left:5771px">Hours per day ≤ 3.0<br>gini = 0.5<br>samples = 4<br>value = [2, 2]<br>class = 0</div>
<div id="n258" class="n p257" style="left:5648px">Depression ≤ 7.5<br>gini = 0.444<br>samples = 3<br>value = [1, 2]<br>class = 1</div>
<div id="n259" class="n p258" style="left:5563px">gini = 0.0<br>samples = 1<br>value = [1, 0]<br>class = 0</div>
<div id="n260" class="n p258" style="left:5714px">gini = 0.0<br>samples = 2<br>value = [0, 2]<br>class = 1</div>
<div id="n261" class="n p257" style="left:5815px">gini = 0.0<br>samples = 1<br>value = [1, 0]<br>class = 0</div>
<div id="n262" class="n p242" style="left:5613px">gini = 0.0<br>samples = 2<br>value = [2, 0]<br>class = 0</div>
<div id="n263" class="n p203" style="left:5686px">OCD ≤ 6.5<br>gini = 0.48<br>samples = 25<br>value = [10, 15]<br>class = 1</div>
<div id="n264" class="n p263" style="left:5783px">OCD ≤ 1.5<br>gini = 0.5<br>samples = 20<br>value = [10, 10]<br>class = 0</div>
<div id="n265" class="n p264" style="left:5881px">OCD ≤ 0.5<br>gini = 0.426<br>samples = 13<br>value = [4, 9]<br>class = 1</div>
<div id="n266" class="n p265" style="left:5881px">Anxiety ≤ 6.5<br>gini = 0.49<br>samples = 7<br>value = [4, 3]<br>class = 0</div>
<div id="n267" class="n p266" style="left:5887px">gini = 0.0<br>samples = 2<br>value = [2, 0]<br>class = 0</div>
<div id="n268" class="n p266" style="left:6038px">Age ≤ 26.5<br>gini = 0.48<br>samples = 5<br>value = [2, 3]<br>class = 1</div>
<div id="n269" class="n p268" style="left:6000px">gini = 0.0<br>samples = 2<br>value = [0, 2]<br>class = 1</div>
<div id="n270" class="n p268" style="left:6151px">Anxiety ≤ 7.5<br>gini = 0.444<br>samples = 3<br>value = [2, 1]<br>class = 0</div>
<div id="n271" class="n p270" style="left:6075px">gini = 0.0<br>samples = 1<br>value = [0, 1]<br>class = 1</div>
<div id="n272" class="n p270" style="left:6226px">gini = 0.0<br>samples = 2<br>value = [2, 0]<br>class = 0</div>
<div id="n273" class="n p265" style="left:6028px">gini = 0.0<br>samples = 6<br>value = [0, 6]<br>class = 1</div>
<div id="n274" class="n p264" style="left:6182px">Anxiety ≤ 5.5<br>gini = 0.245<br>samples = 7<br>value = [6, 1]<br>class = 0</div>
<div id="n275" class="n p274" style="left:6182px">gini = 0.0<br>samples = 1<br>value = [0, 1]<br>class = 1</div>
<div id="n276" class="n p274" style="left:6332px">gini = 0.0<br>samples = 6<br>value = [6, 0]<br>class = 0</div>
<div id="n277" class="n p263" style="left:5944px">gini = 0.0<br>samples = 5<br>value = [0, 5]<br>class = 1</div>
<div id="n278" class="n p202" style="left:5688px">gini = 0.0<br>samples = 7<br>value = [0, 7]<br>class = 1</div>
<div id="n279" class="n p201" style="left:5972px">Hours per day ≤ 1.5<br>gini = 0.124<br>samples = 15<br>value = [1, 14]<br>class = 1</div>
<div id="n280" class="n p279" style="left:5846px">Insomnia ≤ 4.0<br>gini = 0.444<br>samples = 3<br>value = [1, 2]<br>class = 1</div>
<div id="n281" class="n p280" style="left:5846px">gini = 0.0<br>samples = 1<br>value = [1, 0]<br>class = 0</div>
<div id="n282" class="n p280" style="left:5997px">gini = 0.0<br>samples = 2<br>value = [0, 2]<br>class = 1</div>
<div id="n283" class="n p279" style="left:6009px">gini = 0.0<br>samples = 12<br>value = [0, 12]<br>class = 1</div>
<div id="n284" class="n p200" style="left:6198px">OCD ≤ 0.5<br>gini = 0.493<br>samples = 25<br>value = [11, 14]<br>class = 1</div>
<div id="n285" class="n p284" style="left:6198px">Age ≤ 36.5<br>gini = 0.245<br>samples = 7<br>value = [6, 1]<br>class = 0</div>
<div id="n286" class="n p285" style="left:6166px">gini = 0.0<br>samples = 4<br>value = [4, 0]<br>class = 0</div>
<div id="n287" class="n p285" style="left:6316px">Age ≤ 39.0<br>gini = 0.444<br>samples = 3<br>value = [2, 1]<br>class = 0</div>
<div id="n288" class="n p287" style="left:6166px">gini = 0.0<br>samples = 1<br>value = [0, 1]<br>class = 1</div>
<div id="n289" class="n p287" style="left:6316px">gini = 0.0<br>samples = 2<br>value = [2, 0]<br>class = 0</div>
<div id="n290" class="n p284" style="left:6439px">Hours per day ≤ 5.0<br>gini = 0.401<br>samples = 18<br>value = [5, 13]<br>class = 1</div>
<div id="n291" class="n p290" style="left:6472px">OCD ≤ 7.5<br>gini = 0.305<br>samples = 16<br>value = [3, 13]<br>class = 1</div>
<div id="n292" class="n p291" style="left:6472px">OCD ≤ 6.5<br>gini = 0.133<br>samples = 14<br>value = [1, 13]<br>class = 1</div>
<div id="n293" class="n p292" style="left:6355px">gini = 0.0<br>samples = 11<br>value = [0, 11]<br>class = 1</div>
<div id="n294" class="n p292" style="left:6511px">Anxiety ≤ 6.5<br>gini = 0.444<br>samples = 3<br>value = [1, 2]<br>class = 1</div>
<div id="n295" class="n p294" style="left:6384px">gini = 0.0<br>samples = 1<br>value = [1, 0]<br>class = 0</div>
<div id="n296" class="n p294" style="left:6536px">gini = 0.0<br>samples = 2<br>value = [0, 2]<br>class = 1</div>
<div id="n297" class="n p291" style="left:6626px">gini = 0.0<br>samples = 2<br>value = [2, 0]<br>class = 0</div>
<div id="n298" class="n p290" style="left:6626px">gini = 0.0<br>samples = 2<br>value = [2, 0]<br>class = 0</div>
<div id="n299" class="n p199" style="left:6445px">Insomnia ≤ 9.5<br>gini = 0.087<br>samples = 22<br>value = [1, 21]<br>class = 1</div>
<div id="n300" class="n p299" style="left:6445px">gini = 0.0<br>samples = 20<br>value = [0, 20]<br>class = 1</div>
<div id="n301" class="n p299" style="left:6616px">Anxiety ≤ 8.0<br>gini = 0.5<br>samples = 2<br>value = [1, 1]<br>class = 0</div>
<div id="n302" class="n p301" style="left:6616px">gini = 0.0<br>samples = 1<br>value = [1, 0]<br>class = 0</div>
<div id="n303" class="n p301" style="left:6766px">gini = 0.0<br>samples = 1<br>value = [0, 1]<br>class = 1</div>
<div id="n304" class="n p198" style="left:6274px">gini = 0.0<br>samples = 2<br>value = [2, 0]<br>class = 0</div>
</div>

<script>
(function(){
var nodes=document.getElementsByClassName('n'),list=[],par={},depth={},byId={};
for(var i=0;i<nodes.length;i++){list.push(nodes[i]);byId[nodes[i].id]=nodes[i];}
function pid(el){var m=(el.getAttribute('class')||'').match(/\bp(\d+)\b/);return m?'n'+m[1]:null;}
for(var i=0;i<list.length;i++){par[list[i].id]=pid(list[i]);}
function d(id){if(depth[id]!==undefined)return depth[id];var p=par[id];var v=p?d(p)+1:0;depth[id]=v;return v;}
for(var i=0;i<list.length;i++){
  var el=list[i];
  try{
  el.style.top=(5+159*d(el.id))+'px';
  var m=el.textContent.match(/value = \[(\d+), (\d+)\]/);
  if(m){var a=+m[1],b=+m[2],s=a+b,f0=a/s,f1=b/s,mx=Math.max(f0,f1),mn=Math.min(f0,f1);
    var al=(mn>=0.999)?0:(mx-mn)/(1-mn);var c=(b>a)?[57,157,229]:[229,129,57];
    var r=[Math.round(al*c[0]+(1-al)*255),Math.round(al*c[1]+(1-al)*255),Math.round(al*c[2]+(1-al)*255)];
    el.style.background='rgb('+r[0]+','+r[1]+','+r[2]+')';}
  }catch(e){}
}
var svg=document.getElementById('E'),NS='http://www.w3.org/2000/svg';
function R(el){var w=el.offsetWidth,h=el.offsetHeight,cx=parseFloat(el.style.left),t=parseFloat(el.style.top);
  return {l:cx-w/2,t:t,w:w,h:h,cx:cx,cy:t+h/2,r:cx+w/2,b:t+h};}
function mk(tag,attrs){var e=document.createElementNS(NS,tag);for(var k in attrs){e.setAttribute(k,attrs[k]);}svg.appendChild(e);return e;}
function arrow(fx,fy,tx,ty){var dx=tx-fx,dy=ty-fy,L=Math.sqrt(dx*dx+dy*dy)||1,ux=dx/L,uy=dy/L,bx=tx-ux*11,by=ty-uy*11,px=-uy*4.5,py=ux*4.5;
  mk('polygon',{points:tx+','+ty+' '+(bx+px)+','+(by+py)+' '+(bx-px)+','+(by-py),fill:'#000',stroke:'#000','stroke-width':'1'});}
for(var i=0;i<list.length;i++){
  var el=list[i],p=par[el.id];if(!p||!byId[p])continue;
  try{
  var A=R(byId[p]),B=R(el);
  if(p==='n0'){
    var sx,sy,c1x,c1y,c2x,c2y,ex,ey;
    if(el.id==='n1'){sx=A.l;sy=A.t+73;ex=B.r;ey=B.t+37;c1x=sx-300;c1y=sy+20;c2x=ex+260;c2y=ey-30;}
    else{sx=A.r;sy=A.b-1;ex=B.l;ey=B.t+52;c1x=sx+260;c1y=sy+75;c2x=ex-350;c2y=ey;}
    var ux=ex-c2x,uy=ey-c2y,LL=Math.sqrt(ux*ux+uy*uy)||1;var eex=ex-ux/LL*10,eey=ey-uy/LL*10;
    mk('path',{d:'M'+sx+','+sy+' C'+c1x+','+c1y+' '+c2x+','+c2y+' '+eex+','+eey,fill:'none',stroke:'#000','stroke-width':'1.5'});
    arrow(c2x,c2y,ex,ey);continue;}
  var dx=B.cx-A.cx,dy=B.cy-A.cy;
  var adx=Math.abs(dx)<0.01?0.01:Math.abs(dx),ady=Math.abs(dy)<0.01?0.01:Math.abs(dy);
  var ta=Math.min((A.w/2)/adx,(A.h/2)/ady),tb=Math.min((B.w/2)/adx,(B.h/2)/ady);
  var sx2=A.cx+dx*ta,sy2=A.cy+dy*ta,ex2=B.cx-dx*tb,ey2=B.cy-dy*tb;
  var L2=Math.sqrt((ex2-sx2)*(ex2-sx2)+(ey2-sy2)*(ey2-sy2))||1;
  var lx=ex2-(ex2-sx2)/L2*10,ly=ey2-(ey2-sy2)/L2*10;
  mk('line',{x1:sx2,y1:sy2,x2:lx,y2:ly,stroke:'#000','stroke-width':'1.5'});
  arrow(sx2,sy2,ex2,ey2);
  }catch(e){}
}
try{
  var vw=window.innerWidth||document.documentElement.clientWidth,vh=window.innerHeight||document.documentElement.clientHeight;
  var kx=vw/6836,ky=vh/2799;
  if(vw>0&&vh>0&&(Math.abs(kx-1)>0.005||Math.abs(ky-1)>0.005)){
    document.getElementById('W').style.transform='scale('+kx+','+ky+')';
  }
}catch(e){}
})();
</script>
</body></html>
